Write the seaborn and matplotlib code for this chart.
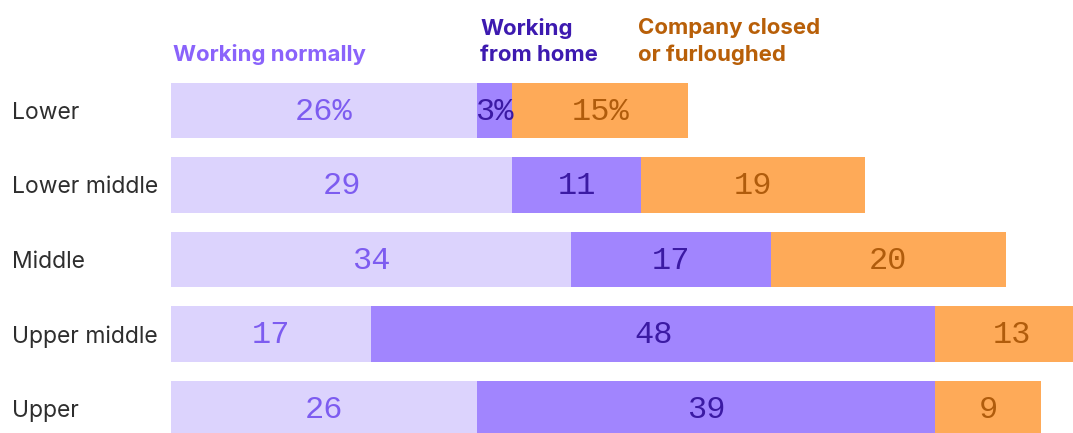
import matplotlib
matplotlib.use("Agg")
import matplotlib.pyplot as plt
import seaborn as sns
import numpy as np
import pandas as pd

#%% data
groups = ["Lower", "Lower middle", "Middle", "Upper middle", "Upper"]
working_normally = [26, 29, 34, 17, 26]
working_from_home = [3, 11, 17, 48, 39]
company_closed = [15, 19, 20, 13, 9]

series_names = ["Working normally", "Working from home", "Company closed or furloughed"]
header_labels = ["Working normally", "Working\nfrom home", "Company closed\nor furloughed"]

bar_colors = ["#dcd3fd", "#a185fe", "#feaa58"]
text_colors = ["#7d5cf0", "#3b1aa3", "#b05c0c"]
header_colors = ["#8a63fb", "#3d1ab0", "#b85f08"]

df = pd.DataFrame({
    "group": groups,
    "normal": working_normally,
    "home": working_from_home,
    "closed": company_closed,
})
df["cum1"] = df["normal"]
df["cum2"] = df["normal"] + df["home"]
df["cum3"] = df["cum2"] + df["closed"]

#%% plot
sns.set_style("white")
plt.rcParams["font.family"] = ["Inter", "DejaVu Sans"]

W, H = 1073, 433
fig = plt.figure(figsize=(W / 100, H / 100), dpi=100)

# axes placed in pixels: x=0 at 171px, 11.76 px per unit; rows 74.5 px apart
px_unit = 11.76
pitch = 74.5
top_px = 110.5 - 0.5 * pitch
bot_px = 110.5 + 4.5 * pitch
ax = fig.add_axes([171 / W, (H - bot_px) / H, (W - 171) / W, (bot_px - top_px) / H])

# stacked bars: draw cumulative totals back to front
for col, color in zip(["cum3", "cum2", "cum1"], bar_colors[::-1]):
    sns.barplot(data=df, x=col, y="group", color=color, saturation=1,
                width=0.74, linewidth=0, orient="h", ax=ax)

ax.set_xlim(0, (W - 171) / px_unit)
ax.set_ylim(4.5, -0.5)

# value labels
mono = "Liberation Mono"
for i, row in df.iterrows():
    starts = [0, row["cum1"], row["cum2"]]
    vals = [row["normal"], row["home"], row["closed"]]
    for k in range(3):
        label = f"{vals[k]}%" if i == 0 else f"{vals[k]}"
        ax.text(starts[k] + vals[k] / 2, i - 0.03, label, ha="center", va="center_baseline",
                fontsize=23, family=mono, color=text_colors[k], clip_on=False)

# header labels above the bars
header_x = [0.2, 26.3, 39.7]
for x, lab, c in zip(header_x, header_labels, header_colors):
    ax.text(x, (65 - 110.5) / pitch, lab, ha="left", va="bottom", fontsize=16,
            fontweight="bold", color=c, linespacing=1.4, clip_on=False)

ax.set_xlabel("")
ax.set_ylabel("")
ax.set_xticks([])
ax.tick_params(axis="y", length=0, pad=(171 - 12) * 0.72, labelsize=16.5, labelcolor="#2e2e2e")
for t in ax.get_yticklabels():
    t.set_ha("left")
sns.despine(ax=ax, left=True, bottom=True)

fig.savefig("out.png", dpi=100)
